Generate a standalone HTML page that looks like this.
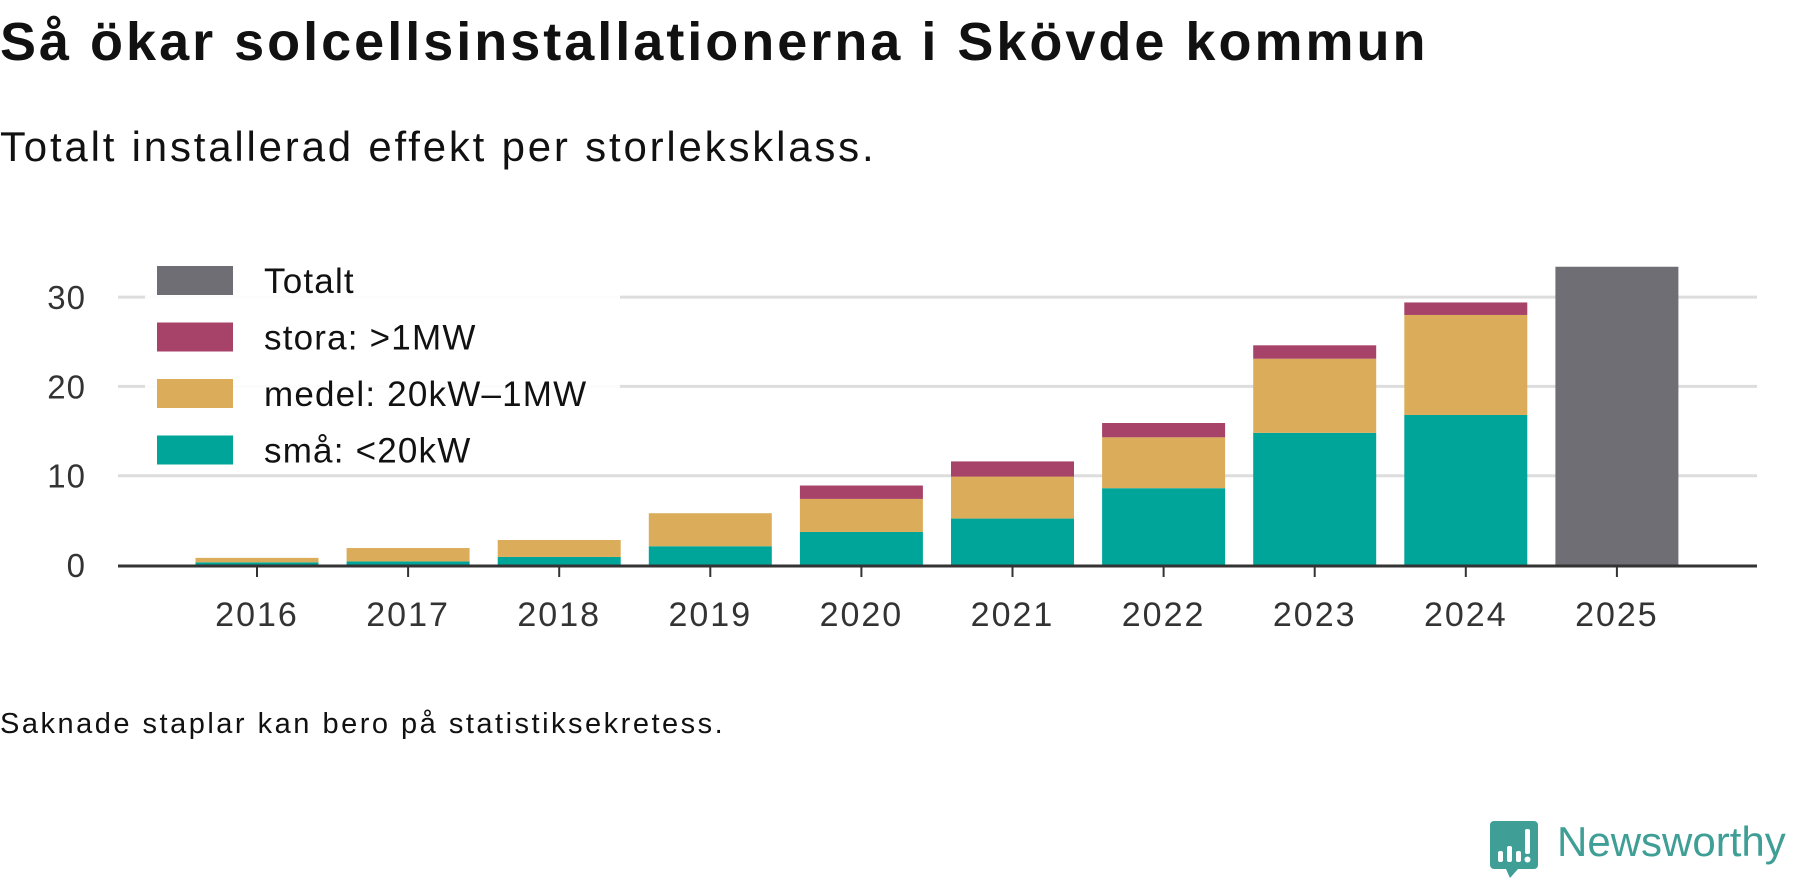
<!DOCTYPE html>
<html><head><meta charset="utf-8"><style>
body{margin:0;background:#fff;width:1800px;height:879px;overflow:hidden;font-family:"Liberation Sans",sans-serif;}
svg text{font-family:"Liberation Sans",sans-serif;}
</style></head><body>
<svg width="1800" height="879">
<text x="0" y="60" font-size="54" letter-spacing="3" font-weight="bold" fill="#111">Så ökar solcellsinstallationerna i Skövde kommun</text>
<text x="0" y="161" font-size="42" letter-spacing="2.8" fill="#111">Totalt installerad effekt per storleksklass.</text>
<g id="grid"></g>
<g id="bars"></g>
<g id="axis"></g>
<g id="legend"></g>
<text x="0" y="733" font-size="29" letter-spacing="2.5" fill="#111">Saknade staplar kan bero på statistiksekretess.</text>
<g>
<path d="M1494,821 h40 a4,4 0 0 1 4,4 v40 a4,4 0 0 1 -4,4 h-16 l-8,9 l-4,-9 h-12 a4,4 0 0 1 -4,-4 v-40 a4,4 0 0 1 4,-4z" fill="#3f9e96"/>
<rect x="1498" y="851" width="5" height="11" rx="2" fill="#fff"/>
<rect x="1507" y="846" width="5" height="16" rx="2" fill="#fff"/>
<rect x="1516" y="851" width="5" height="11" rx="2" fill="#fff"/>
<rect x="1525" y="829" width="5" height="25" rx="2" fill="#fff"/>
<circle cx="1527.5" cy="859.5" r="3" fill="#fff"/>
<text x="1557" y="856" font-size="42" fill="#3f9e96">Newsworthy</text>
</g>
</svg>
<script>
const years = ["2016","2017","2018","2019","2020","2021","2022","2023","2024","2025"];
const smaValues = [0.3,0.4,0.9,2.1,3.7,5.2,8.6,14.8,16.8,null];
const medelValues = [0.5,1.5,1.9,3.7,3.7,4.7,5.7,8.3,11.2,null];
const storaValues = [0,0,0,0,1.5,1.7,1.6,1.5,1.4,null];
const totalValues = [null,null,null,null,null,null,null,null,null,33.4];
const yTicks = [0,10,20,30];

const NS="http://www.w3.org/2000/svg";
const x0=118,x1=1757,yBase=565,pxPer=8.93;
const c0=257,step=151.1,bw=123;
const y=v=>yBase-v*pxPer;
const xc=i=>c0+i*step;
function mk(t,a,p){const e=document.createElementNS(NS,t);for(const k in a)e.setAttribute(k,a[k]);p.appendChild(e);return e;}
const grid=document.getElementById('grid'),bars=document.getElementById('bars'),axis=document.getElementById('axis'),legend=document.getElementById('legend');
yTicks.forEach(t=>{
  if(t>0){const l=mk('line',{x1:x0,x2:x1,y1:y(t),y2:y(t),stroke:'#ddd','stroke-width':3},grid);
  
  }
  const tx=mk('text',{x:86,y:y(t)+12,'font-size':33,'letter-spacing':1,fill:'#333','text-anchor':'end'},axis);tx.textContent=t;
  
  
});
const series=[[smaValues,'#00a59a','sma'],[medelValues,'#dbad5b','medel'],[storaValues,'#a74268','stora'],[totalValues,'#6f6e74','totalt']];
years.forEach((yr,i)=>{
  let acc=0;
  series.forEach(([arr,col,nm])=>{
    const v=arr[i];if(!v)return;
    const r=mk('rect',{x:xc(i)-bw/2,y:y(acc+v),width:bw,height:v*pxPer,fill:col},bars);
    
    
    acc+=v;
  });
  const tk=mk('line',{x1:xc(i),x2:xc(i),y1:yBase,y2:yBase+12,stroke:'#333','stroke-width':2},axis);
  
  
  const tx=mk('text',{x:xc(i),y:626,'font-size':34,'letter-spacing':2,fill:'#333','text-anchor':'middle'},axis);tx.textContent=yr;
  
  
});
const ax=mk('line',{x1:x0,x2:x1,y1:yBase+1,y2:yBase+1,stroke:'#333','stroke-width':3},axis);


const bg=mk('rect',{x:145,y:262,width:475,height:210,fill:'#fff','fill-opacity':0.9},legend);


const items=[['Totalt','#6f6e74'],['stora: >1MW','#a74268'],['medel: 20kW–1MW','#dbad5b'],['små: <20kW','#00a59a']];
items.forEach(([lab,col],k)=>{
  const cy=281+k*56.5;
  const g=mk('g',{},legend);
  
  
  mk('rect',{x:157,y:cy-15,width:76,height:29,fill:col},g);
  const t=mk('text',{x:264,y:cy+12,'font-size':35,'letter-spacing':1.2,fill:'#111'},g);t.textContent=lab;
});
</script>
</body></html>
